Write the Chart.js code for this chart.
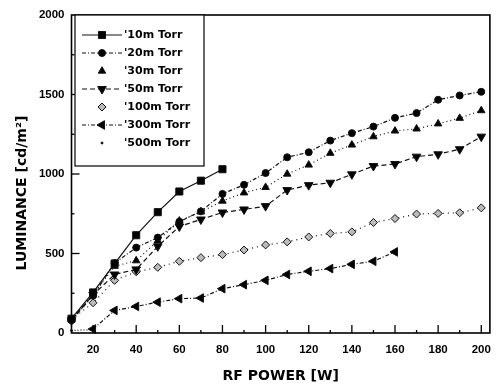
<!DOCTYPE html>
<html><head><meta charset="utf-8">
<script src="https://cdn.jsdelivr.net/npm/chart.js@4.4.0/dist/chart.umd.min.js"></script>
<style>html,body{margin:0;padding:0;background:#fff;}canvas{display:block;}</style>
</head><body>
<canvas id="c" width="501" height="386"></canvas>
<script>
// ---- data ----
const powers = [10,20,30,40,50,60,70,80,90,100,110,120,130,140,150,160,170,180,190,200];
const xTickValues = [20,40,60,80,100,120,140,160,180,200];
const yTickValues = [0,500,1000,1500,2000];
const seriesNames = ["'10m Torr","'20m Torr","'30m Torr","'50m Torr","'100m Torr","'300m Torr","'500m Torr"];
const lum10mTorr  = [90,255,437,615,760,890,958,1030];
const lum20mTorr  = [80,235,440,537,600,700,765,875,932,1006,1105,1137,1210,1257,1298,1353,1383,1467,1494,1517];
const lum30mTorr  = [90,240,420,455,580,705,762,830,882,916,1000,1057,1131,1183,1235,1271,1284,1316,1351,1399];
const lum50mTorr  = [80,240,368,400,545,670,714,758,777,798,899,930,945,998,1050,1063,1109,1124,1156,1235];
const lum100mTorr = [85,190,331,385,413,451,474,493,522,554,573,604,626,636,695,720,748,752,756,787];
const lum300mTorr = [25,142,167,194,216,220,279,304,331,368,388,405,432,451,510]; // from 20 W
const lum500mTorr = [15,22];
const seriesValues = [lum10mTorr,lum20mTorr,lum30mTorr,lum50mTorr,lum100mTorr,lum300mTorr,lum500mTorr];
const seriesStartPower = [10,10,10,10,10,20,10];

// ---- styles ----
const styles = [
  {pointStyle:'rect', radius:5, rotation:0, dash:[], fill:'#000', legendLine:true},
  {pointStyle:'circle', radius:3.5, rotation:0, dash:[4,2,1,2], fill:'#000', legendLine:true},
  {pointStyle:'triangle', radius:4.3, rotation:0, dash:[1,3], fill:'#000', legendLine:false},
  {pointStyle:'triangle', radius:5, rotation:180, dash:[5,3], fill:'#000', legendLine:true},
  {pointStyle:'rectRot', radius:4, rotation:0, dash:[1,4], fill:'#bbb', legendLine:false},
  {pointStyle:'triangle', radius:5, rotation:270, dash:[4,2,1,2], fill:'#000', legendLine:true},
  {pointStyle:'circle', radius:1, rotation:0, dash:[1,2], fill:'#000', legendLine:false}
];

const datasets = seriesNames.map((name,i)=>{
  const s = styles[i];
  const off = powers.indexOf(seriesStartPower[i]);
  return {
    label:name,
    data: seriesValues[i].map((v,k)=>({x:powers[off+k], y:v})),
    borderColor:'#111', borderWidth:1.2, borderDash:s.dash,
    pointStyle:s.pointStyle, pointRadius:s.radius, pointRotation:s.rotation,
    pointBackgroundColor:s.fill, pointBorderColor:'#111', pointBorderWidth:1,
    tension:0, clip:false
  };
});

function drawMarker(ctx, s, x, y){
  if (Chart.helpers && Chart.helpers.drawPoint) {
    ctx.save();
    ctx.fillStyle = s.fill; ctx.strokeStyle = '#111'; ctx.lineWidth = 1; ctx.setLineDash([]);
    Chart.helpers.drawPoint(ctx, {pointStyle:s.pointStyle, radius:s.radius, rotation:s.rotation, borderWidth:1}, x, y);
    ctx.restore();
  }
}

const decorPlugin = {
  id:'decor',
  afterDatasetsDraw(chart){
    const ctx = chart.ctx, a = chart.chartArea;
    const xs = chart.scales.x, ys = chart.scales.y;
    ctx.save();
    ctx.strokeStyle = '#000'; ctx.setLineDash([]);
    // frame
    ctx.lineWidth = 1.6;
    ctx.strokeRect(a.left, a.top, a.right - a.left, a.bottom - a.top);
    // inward ticks
    ctx.lineWidth = 1.3;
    for (let v = 10; v <= 200; v += 10) {
      const px = xs.getPixelForValue(v);
      if (px <= a.left + 1) continue;
      const len = xTickValues.includes(v) ? 8 : 3;
      ctx.beginPath(); ctx.moveTo(px, a.bottom); ctx.lineTo(px, a.bottom - len); ctx.stroke();
    }
    for (let v = 250; v < 2000; v += 250) {
      const py = ys.getPixelForValue(v);
      const len = yTickValues.includes(v) ? 8 : 3;
      ctx.beginPath(); ctx.moveTo(a.left, py); ctx.lineTo(a.left + len, py); ctx.stroke();
    }
    // legend box
    const lx = a.left + 3.5, ly = a.top, lw = 129, lh = 151;
    ctx.fillStyle = '#fff';
    ctx.fillRect(lx, ly, lw, lh);
    ctx.lineWidth = 1.2;
    ctx.strokeRect(lx, ly, lw, lh);
    ctx.font = 'bold 11px "DejaVu Sans"';
    ctx.textBaseline = 'middle'; ctx.textAlign = 'left';
    chart.data.datasets.forEach((ds,i)=>{
      const s = styles[i];
      const y = ly + 20 + 18*i;
      if (s.legendLine) {
        ctx.save();
        ctx.lineWidth = 1; ctx.strokeStyle = '#111'; ctx.setLineDash(s.dash);
        ctx.beginPath(); ctx.moveTo(lx + 7, y); ctx.lineTo(lx + 47, y); ctx.stroke();
        ctx.restore();
      }
      drawMarker(ctx, s, lx + 27, y);
      ctx.fillStyle = '#000';
      ctx.fillText(ds.label, lx + 49, y);
    });
    // axis titles
    ctx.fillStyle = '#000';
    ctx.font = 'bold 14px "DejaVu Sans"';
    ctx.textAlign = 'center'; ctx.textBaseline = 'middle';
    ctx.fillText('RF POWER [W]', (a.left + a.right)/2, 376);
    ctx.translate(22, 193);
    ctx.rotate(-Math.PI/2);
    ctx.fillText('LUMINANCE [cd/m²]', 0, 0);
    ctx.restore();
  }
};

new Chart(document.getElementById('c'), {
  type:'line',
  data:{datasets},
  options:{
    responsive:false, devicePixelRatio:1, animation:false,
    layout:{padding:{top:15, right:7, left:0, bottom:0}},
    plugins:{legend:{display:false}, tooltip:{enabled:false}},
    scales:{
      x:{type:'linear', min:10, max:204,
         grid:{display:false, drawTicks:false}, border:{display:false},
         afterBuildTicks(s){ s.ticks = xTickValues.map(v=>({value:v})); },
         afterFit(s){ s.height = 53; },
         ticks:{padding:10, color:'#000', font:{family:'Liberation Sans', size:11.5, weight:'bold'}, maxRotation:0, autoSkip:false,
                callback:(v)=>String(v)}},
      y:{type:'linear', min:0, max:2000,
         grid:{display:false, drawTicks:false}, border:{display:false},
         afterBuildTicks(s){ s.ticks = yTickValues.map(v=>({value:v})); },
         afterFit(s){ s.width = 71.5; },
         ticks:{padding:7, color:'#000', font:{family:'Liberation Sans', size:11.5, weight:'bold'},
                callback:(v)=>String(v)}}
    }
  },
  plugins:[decorPlugin]
});
</script>
</body></html>
